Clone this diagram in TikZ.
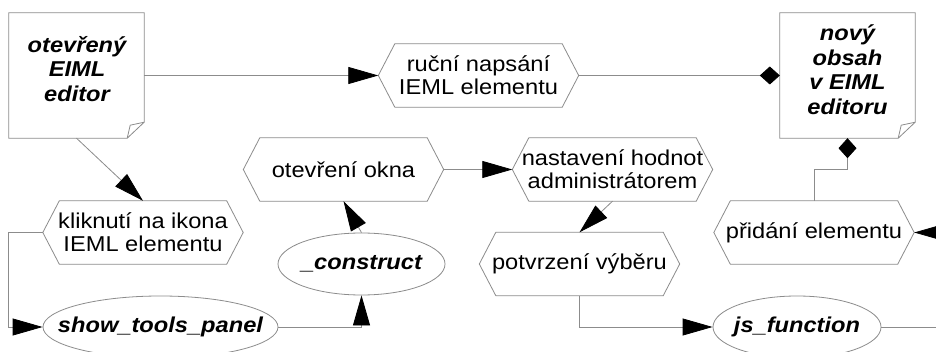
\documentclass[tikz,border=0pt]{standalone}
\usepackage{fontspec}
\setmainfont{Liberation Sans}[FakeStretch=1.1]
\usetikzlibrary{arrows.meta,shapes.geometric,calc}
\definecolor{lc}{RGB}{140,140,140}
\newcommand\elltxt[1]{\makebox[0pt]{\bfseries\itshape #1}}
\begin{document}
\begin{tikzpicture}[x=1pt,y=-1pt,
  conn/.style={draw=lc, line width=0.8pt},
  shp/.style={draw=lc, line width=0.8pt},
  arrowend/.style={-{Triangle[length=30pt,width=17pt,color=black,fill=black]}},
  diamondend/.style={-{Diamond[length=20pt,width=18pt,color=black,fill=black]}},
  hexbox/.style={rectangle, minimum width=200pt, minimum height=63pt, inner sep=0pt, align=center, font=\fontsize{21.5}{23}\selectfont},
  ellbox/.style={ellipse, draw=lc, line width=0.8pt, inner sep=0pt, minimum height=62pt, font=\fontsize{21.5}{23}\selectfont},
  notebox/.style={rectangle, minimum width=135pt, minimum height=125pt, inner sep=0pt},
  notetxt/.style={align=center, inner sep=0pt, font=\fontsize{21.5}{24.5}\selectfont\bfseries\itshape}
]
\clip (0,0) rectangle (936,352);
\fill[white] (0,0) rectangle (936,352);

% notes
\node[notebox] (n1) at (76.5,75.5) {};
\node[notebox] (n2) at (847.5,75.5) {};
\foreach \n in {n1,n2}{
  \draw[shp] (\n.north west) -- (\n.north east) -- ([yshift=16pt]\n.south east)
     -- ([xshift=-17pt]\n.south east) -- (\n.south west) -- cycle;
  \draw[shp] ([xshift=-17pt]\n.south east) -- ([xshift=-14pt,yshift=13pt]\n.south east)
     -- ([yshift=16pt]\n.south east);
}
\node[notetxt] (t1) at (77,69) {otevřený\\EIML\\editor};
\node[notetxt] (t2) at (847.5,69.5) {nový\\obsah\\v EIML\\editoru};

% hexagons
\node[hexbox] (rucni) at (478.5,75.5) {ruční napsání\\IEML elementu};
\node[hexbox] (otev) at (343.5,169.5) {otevření okna};
\node[hexbox] (nast) at (612.5,169.5) {nastavení hodnot\\administrátorem};
\node[hexbox] (klik) at (143,232.5) {kliknutí na ikona\\IEML elementu};
\node[hexbox] (potv) at (579.5,264) {potvrzení výběru};
\node[hexbox] (prid) at (814,232.5) {přidání elementu};
\foreach \n in {rucni,otev,nast,klik,potv,prid}{
  \draw[shp] (\n.west) -- ([xshift=16.5pt]\n.north west) -- ([xshift=-16.5pt]\n.north east)
    -- (\n.east) -- ([xshift=-16.5pt]\n.south east) -- ([xshift=16.5pt]\n.south west) -- cycle;
}

% ellipses
\node[ellbox, minimum width=235pt] (stp) at (160.5,327) {\elltxt{show\_tools\_panel}};
\node[ellbox, minimum width=167pt] (cons) at (361.5,264) {\elltxt{\_construct}};
\node[ellbox, minimum width=168pt] (js) at (797,327) {\elltxt{js\_function}};

% connectors
\draw[conn, arrowend] (n1.east) -- (rucni.west);
\draw[conn, diamondend] (rucni.east) -- (n2.west);
\draw[conn, arrowend] (n1.south) -- (klik.north);
\draw[conn, arrowend] (klik.west) -- ++(-34,0) |- (stp.west);
\draw[conn, arrowend] (stp.east) -| (cons.south);
\draw[conn, arrowend] (cons.north) -- (otev.south);
\draw[conn, arrowend] (otev.east) -- (nast.west);
\draw[conn, arrowend] (nast.south) -- (potv.north);
\draw[conn, arrowend] (potv.south) |- (js.west);
\draw[conn, arrowend] (js.east) -- ++(70,0) |- (prid.east);
\draw[conn, diamondend] (prid.north) -- ++(0,-31) -| (n2.south);
\end{tikzpicture}
\end{document}
